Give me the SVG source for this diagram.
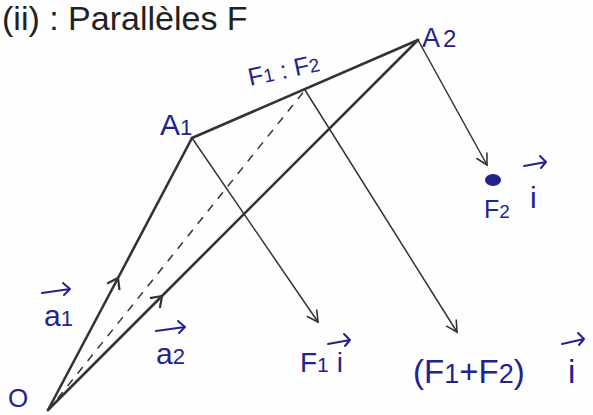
<svg xmlns="http://www.w3.org/2000/svg" width="593" height="415" viewBox="0 0 593 415">
<style>
.ln{stroke:#333;fill:none;stroke-linecap:round}
.thick{stroke-width:2.6}
.thin{stroke-width:1.5}
.lbl{font-family:"Liberation Sans",Arial,sans-serif;fill:#22238f}
.vec{stroke:#22238f;stroke-width:2;fill:none;stroke-linecap:round;stroke-linejoin:round}
</style>
<defs>
<marker id="open" viewBox="-12 -7 14 14" refX="0" refY="0" markerWidth="14" markerHeight="14" markerUnits="userSpaceOnUse" orient="auto">
<path d="M-11,-6 L0,0 L-11,6" fill="none" stroke="#333" stroke-width="1.6"/>
</marker>
<marker id="mid" viewBox="-12 -8 14 16" refX="0" refY="0" markerWidth="14" markerHeight="16" markerUnits="userSpaceOnUse" orient="auto">
<path d="M-10,-7 L0,0 L-10,7" fill="none" stroke="#333" stroke-width="2.2"/>
</marker>
</defs>
<rect width="593" height="415" fill="#fefefe"/>
<text x="2" y="30" style="font-family:'Liberation Sans',Arial,sans-serif;font-size:34px;fill:#222">(ii) : Parallèles F</text>
<g id="connectors">
<path class="ln thick" d="M48,410 L118,278 L192,138" marker-mid="url(#mid)"/>
<path class="ln thick" d="M48,410 L162,296 L418,40" marker-mid="url(#mid)"/>
<path class="ln thick" d="M192,138 L418,40"/>
<path class="ln thin" d="M58,398 L305,90" stroke-dasharray="7,9" stroke="#666"/>
<path class="ln thin" d="M192,138 L318,322" marker-end="url(#open)"/>
<path class="ln thin" d="M305,90 L457,332" marker-end="url(#open)"/>
<path class="ln thin" d="M418,40 L487,165" marker-end="url(#open)"/>
</g>
<g id="O"><text class="lbl" x="8" y="407" style="font-size:26px">O</text></g>
<g id="A1"><text class="lbl" x="160" y="135" style="font-size:30px">A<tspan style="font-size:22px">1</tspan></text></g>
<g id="A2"><text class="lbl" x="422" y="47" style="font-size:27px">A<tspan style="font-size:24px" dx="3">2</tspan></text></g>
<g id="F1F2"><text class="lbl" x="250" y="86" style="font-size:25px" transform="rotate(-12 250 86)">F<tspan style="font-size:19px">1</tspan> : F<tspan style="font-size:19px">2</tspan></text></g>
<g id="a1"><text class="lbl" x="44" y="326" style="font-size:30px">a<tspan style="font-size:22px">1</tspan></text><path class="vec" d="M42,293 L70,289 M63,283 L70,289 L64,295"/></g>
<g id="a2"><text class="lbl" x="156" y="364" style="font-size:30px">a<tspan style="font-size:22px">2</tspan></text><path class="vec" d="M156,331 L185,327 M178,321 L185,327 L179,333"/></g>
<g id="F1i"><text class="lbl" x="300" y="372" style="font-size:28px">F<tspan style="font-size:21px">1</tspan><tspan dx="8">i</tspan></text><path class="vec" d="M328,344 L350,340 M344,334 L350,340 L345,346"/></g>
<g id="F1F2i"><text class="lbl" x="413" y="383" style="font-size:33px">(F<tspan style="font-size:27px">1</tspan>+F<tspan style="font-size:27px">2</tspan>)<tspan x="568">i</tspan></text><path class="vec" d="M562,344 L584,339 M578,333 L584,339 L579,345"/></g>
<g id="F2i"><ellipse cx="493" cy="180" rx="8" ry="6" fill="#22238f"/><text class="lbl" x="484" y="218" style="font-size:25px">F<tspan style="font-size:19px">2</tspan></text><text class="lbl" x="530" y="208" style="font-size:30px">i</text><path class="vec" d="M524,166 L546,162 M540,156 L546,162 L541,168"/></g>
</svg>
